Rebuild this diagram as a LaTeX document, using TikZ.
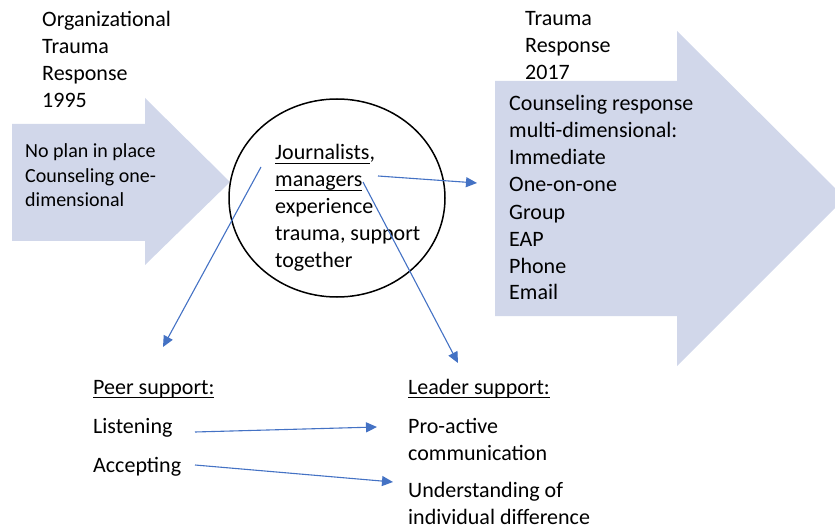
\documentclass[tikz,border=0pt]{standalone}
\usepackage{fontspec}
\setmainfont{Carlito}
\usetikzlibrary{arrows.meta,shapes.geometric}
\definecolor{arrowfill}{RGB}{209,215,234}
\definecolor{linkblue}{RGB}{68,114,196}
\newsavebox\undlbox
\newcommand{\undl}[1]{\sbox\undlbox{#1}\rlap{\rule[-4pt]{\wd\undlbox}{1.3pt}}\usebox\undlbox}

\begin{document}
\begin{tikzpicture}[x=1pt,y=-1pt,
  txt/.style={anchor=base west,inner sep=0,align=left,font=\fontsize{22}{27}\selectfont},
  small txt/.style={txt,font=\fontsize{20}{24.5}\selectfont},
  band/.style={fill=arrowfill,draw=none},
  link/.style={-{Triangle[length=11pt,width=10pt]},draw=linkblue,line width=1.1pt}]

            \useasboundingbox (0,0) rectangle (835,529);
            \clip (0,0) rectangle (835,529);

            % the two big arrows
            \path[band] (12,124) -- (145,124) -- (145,98) -- (230,182) -- (145,265) -- (145,241) -- (12,241) -- cycle;
            \path[band] (495,81) -- (677,81) -- (677,31) -- (845,198) -- (677,366) -- (677,316) -- (495,316) -- cycle;

            % multi-line texts sit on the baseline of their last line
            \node[txt] (old) at (42,108) {Organizational\\Trauma\\Response\\1995};
            \node[txt] (new) at (525,80) {Trauma\\Response\\2017};
            \node[small txt] (before) at (25,207) {No plan in place\\Counseling one-\\dimensional};
            \node[txt] (after) at (509,300) {Counseling response\\multi-dimensional:\\Immediate\\One-on-one\\Group\\EAP\\Phone\\Email};

            \node[draw, ellipse, minimum width=216, minimum height=198, line width=1.5pt] (hub) at (337,198) {};
            \node[txt] (staff) at (275,268) {\undl{Journalists},\\\undl{managers}\\experience\\trauma, support\\together};

            \node[txt] (peer) at (93,394) {\undl{Peer support:}};
            \node[txt] (listen) at (93,433) {Listening};
            \node[txt] (accept) at (93,472) {Accepting};
            \node[txt] (leader) at (408,394) {\undl{Leader support:}};
            \node[txt] (proactive) at (408,460) {Pro-active\\communication};
            \node[txt] (individual) at (408,524) {Understanding of\\individual difference};

            % connector ends
            \coordinate (hub-left) at (261,167);
            \coordinate (hub-mid) at (363,182);
            \coordinate (hub-right) at (378,176);
            \coordinate (peer-top) at (163,347);
            \coordinate (leader-top) at (458,363);
            \coordinate (after-in) at (477,183);
            \coordinate (listen-out) at (195,432);
            \coordinate (proactive-in) at (377,427);
            \coordinate (accept-out) at (195,465);
            \coordinate (individual-in) at (393,482);

            \draw[link] (hub-left) to (peer-top);
            \draw[link] (hub-mid) to (leader-top);
            \draw[link] (hub-right) to (after-in);
            \draw[link] (listen-out) to (proactive-in);
            \draw[link] (accept-out) to (individual-in);

        \end{tikzpicture}
\end{document}
